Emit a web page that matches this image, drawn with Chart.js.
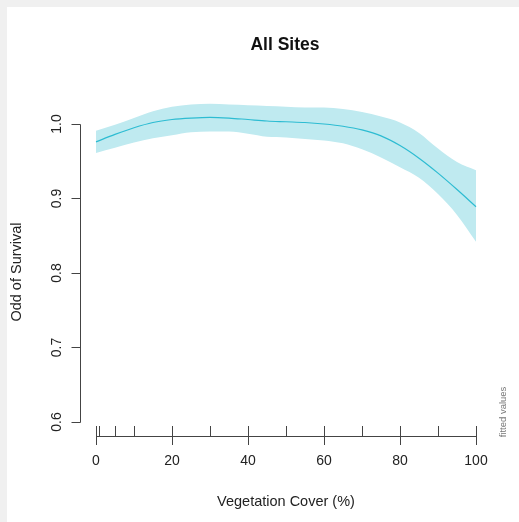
<!DOCTYPE html>
<html>
<head>
<meta charset="utf-8">
<title>All Sites</title>
<script src="https://cdn.jsdelivr.net/npm/chart.js@4"></script>
<style>
  html, body { margin: 0; padding: 0; background: #f0f0f0; }
  canvas { display: block; }
</style>
</head>
<body>
<canvas id="grafico" width="519" height="522"></canvas>
<script>
// valores
const cobertura = [0, 5, 10, 15, 20, 25, 30, 35, 40, 45, 50, 55, 60, 65, 70, 75, 80, 85, 90, 95, 100];
const ajustado = [0.976, 0.986, 0.995, 1.002, 1.006, 1.008, 1.009, 1.008, 1.006, 1.004, 1.003, 1.002, 1.000, 0.997, 0.992, 0.984, 0.971, 0.954, 0.934, 0.912, 0.889];
const superior = [0.991, 0.999, 1.008, 1.017, 1.023, 1.026, 1.027, 1.026, 1.025, 1.024, 1.023, 1.022, 1.022, 1.020, 1.016, 1.010, 1.002, 0.988, 0.967, 0.949, 0.938];
const inferior = [0.961, 0.968, 0.975, 0.981, 0.985, 0.989, 0.990, 0.990, 0.987, 0.983, 0.982, 0.980, 0.978, 0.974, 0.966, 0.955, 0.942, 0.928, 0.906, 0.878, 0.842];
const ticksX = [0, 20, 40, 60, 80, 100];
const ticksY = [0.6, 0.7, 0.8, 0.9, 1.0];
const rugX = [0, 0.7, 5, 10, 20, 30, 40, 50, 60, 70, 80, 90, 100];

const FONTE = '"Liberation Sans", Arial, sans-serif';

function pontos(valores) {
    return cobertura.map((c, i) => ({ x: c, y: valores[i] }));
}

// desenha eixos no estilo do R (base graphics)
const eixosR = {
    id: 'eixosR',
    beforeDraw(chart) {
        const c = chart.ctx;
        c.save();
        c.fillStyle = '#f0f0f0';
        c.fillRect(0, 0, chart.width, chart.height);
        c.fillStyle = '#ffffff';
        c.fillRect(7, 7, chart.width - 7, chart.height - 7);
        c.restore();
    },
    afterDraw(chart) {
        const c = chart.ctx;
        const sx = chart.scales.x;
        const sy = chart.scales.y;
        const baseY = chart.chartArea.bottom;
        const baseX = chart.chartArea.left;

        c.save();
        c.strokeStyle = '#444';
        c.lineWidth = 1;
        c.fillStyle = '#222';

        // eixo y
        const yTop = Math.round(sy.getPixelForValue(ticksY[ticksY.length - 1])) + 0.5;
        const yBot = Math.round(sy.getPixelForValue(ticksY[0])) + 0.5;
        c.beginPath();
        c.moveTo(baseX + 0.5, yTop);
        c.lineTo(baseX + 0.5, yBot);
        ticksY.forEach(v => {
            const py = Math.round(sy.getPixelForValue(v)) + 0.5;
            c.moveTo(baseX + 0.5, py);
            c.lineTo(baseX - 8.5, py);
        });
        c.stroke();
        c.font = '14px ' + FONTE;
        c.textAlign = 'center';
        c.textBaseline = 'middle';
        ticksY.forEach(v => {
            const py = sy.getPixelForValue(v);
            c.save();
            c.translate(57, py);
            c.rotate(-Math.PI / 2);
            c.fillText(v.toFixed(1), 0, 0);
            c.restore();
        });

        // eixo x
        const xL = Math.round(sx.getPixelForValue(ticksX[0])) + 0.5;
        const xR = Math.round(sx.getPixelForValue(ticksX[ticksX.length - 1])) + 0.5;
        c.beginPath();
        c.moveTo(xL, baseY + 0.5);
        c.lineTo(xR, baseY + 0.5);
        ticksX.forEach(v => {
            const px = Math.round(sx.getPixelForValue(v)) + 0.5;
            c.moveTo(px, baseY);
            c.lineTo(px, baseY + 9);
        });
        // rug
        rugX.forEach(v => {
            const px = Math.round(sx.getPixelForValue(v)) + 0.5;
            c.moveTo(px, baseY);
            c.lineTo(px, baseY - 10);
        });
        c.stroke();
        ticksX.forEach(v => {
            c.fillText(String(v), sx.getPixelForValue(v), 461);
        });

        // títulos
        c.fillStyle = '#111';
        c.font = 'bold 17.5px ' + FONTE;
        c.fillText('All Sites', 285, 45);
        c.fillStyle = '#222';
        c.font = '14.5px ' + FONTE;
        c.fillText('Vegetation Cover (%)', 286, 502);
        c.save();
        c.translate(17, 272);
        c.rotate(-Math.PI / 2);
        c.fillText('Odd of Survival', 0, 0);
        c.restore();

        c.fillStyle = '#777';
        c.font = '9.5px ' + FONTE;
        c.save();
        c.translate(503, 412);
        c.rotate(-Math.PI / 2);
        c.fillText('fitted values', 0, 0);
        c.restore();
        c.restore();
    }
};

document.addEventListener('DOMContentLoaded', () => {

    const ctx = document.getElementById('grafico').getContext('2d');

    new Chart(ctx, {
        type: 'line',
        data: {
            datasets: [
                {
                    label: 'superior',
                    data: pontos(superior),
                    borderWidth: 0,
                    borderColor: 'rgba(0,0,0,0)',
                    backgroundColor: 'rgb(191, 234, 240)',
                    pointRadius: 0,
                    fill: '+1',
                    order: 2,
                    cubicInterpolationMode: 'monotone'
                },
                {
                    label: 'inferior',
                    data: pontos(inferior),
                    borderWidth: 0,
                    borderColor: 'rgba(0,0,0,0)',
                    pointRadius: 0,
                    fill: false,
                    order: 2,
                    cubicInterpolationMode: 'monotone'
                },
                {
                    label: 'ajustado',
                    data: pontos(ajustado),
                    borderWidth: 1.2,
                    borderColor: 'rgb(45, 188, 210)',
                    pointRadius: 0,
                    fill: false,
                    order: 0, // linha por cima da faixa
                    cubicInterpolationMode: 'monotone'
                }
            ]
        },
        options: {
            responsive: false,
            animation: false,
            layout: {
                padding: { left: 80, right: 27, top: 100, bottom: 86 }
            },
            scales: {
                x: { type: 'linear', display: false, min: -4.21, max: 104.21 },
                y: { type: 'linear', display: false, min: 0.5812, max: 1.0322 }
            },
            plugins: {
                legend: { display: false },
                tooltip: { enabled: false }
            }
        },
        plugins: [eixosR]
    });
});
</script>
</body>
</html>
